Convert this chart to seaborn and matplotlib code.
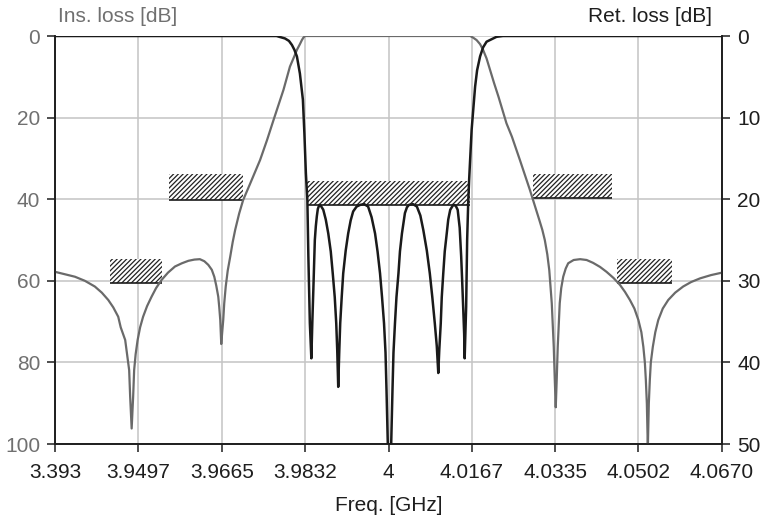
import numpy as np
import pandas as pd
import matplotlib
matplotlib.use("Agg")
import matplotlib.pyplot as plt
import seaborn as sns

# ---------------- data ----------------
ins_freq = [3.9330, 3.9370, 3.9390, 3.9410, 3.9424, 3.9437, 3.9447, 3.9457, 3.9462,
            3.9471, 3.9475, 3.9479, 3.9481, 3.9484, 3.9487, 3.9489, 3.9492, 3.9496,
            3.9501, 3.9507, 3.9515, 3.9524, 3.9533, 3.9544, 3.9557, 3.9571, 3.9585,
            3.9598, 3.9610, 3.9621, 3.9630, 3.9638, 3.9645, 3.9650, 3.9654, 3.9658,
            3.9660, 3.9662, 3.9664, 3.9666, 3.9668, 3.9670, 3.9673, 3.9677, 3.9682,
            3.9687, 3.9692, 3.9700, 3.9708, 3.9722, 3.9742, 3.9756, 3.9769, 3.9789,
            3.9802, 3.9810, 3.9816, 3.9822, 3.9826, 3.9829, 3.9832,
            4.0164, 4.0170, 4.0177, 4.0184, 4.0190, 4.0197, 4.0204, 4.0212, 4.0221,
            4.0237, 4.0248, 4.0264, 4.0284, 4.0303, 4.0309, 4.0314, 4.0319, 4.0323,
            4.0328, 4.0332, 4.0334, 4.0336, 4.0338, 4.0340, 4.0344, 4.0347, 4.0351,
            4.0356, 4.0361, 4.0372, 4.0385, 4.0398, 4.0411, 4.0425, 4.0438, 4.0452,
            4.0465, 4.0475, 4.0485, 4.0494, 4.0502, 4.0508, 4.0512, 4.0515, 4.0517,
            4.0519, 4.0521, 4.0523, 4.0525, 4.0527, 4.0531, 4.0536, 4.0542, 4.0551,
            4.0562, 4.0576, 4.0592, 4.0608, 4.0626, 4.0648, 4.0670]
ins_loss = [57.8, 59.0, 60.0, 61.4, 62.9, 64.7, 66.5, 68.8, 71.4,
            74.5, 78.2, 81.9, 88.4, 96.2, 88.4, 81.9, 78.0, 74.5,
            71.4, 68.8, 66.2, 63.9, 61.8, 59.8, 58.0, 56.5, 55.7,
            55.1, 54.8, 54.7, 55.2, 56.1, 57.3, 59.0, 61.2, 63.9,
            66.5, 69.6, 75.5, 72.5, 69.6, 65.5, 61.4, 57.5, 54.1,
            50.5, 47.5, 43.5, 40.2, 36.2, 30.4, 25.5, 20.6, 13.2,
            7.5, 5.2, 3.4, 2.0, 1.0, 0.4, 0.0,
            0.0, 0.4, 1.0, 2.0, 3.4, 5.5, 8.3, 11.5, 14.9,
            21.4, 24.7, 30.4, 37.7, 45.1, 47.5, 50.0, 53.5, 57.4,
            65.5, 76.2, 84.0, 91.0, 84.0, 76.2, 65.5, 61.8, 59.0,
            57.0, 55.7, 54.9, 54.7, 54.9, 55.6, 56.6, 57.8, 59.3,
            61.0, 62.7, 64.7, 66.8, 69.6, 72.6, 76.2, 80.0, 84.3,
            90.0, 101.0, 90.0, 84.3, 80.0, 76.2, 72.6, 69.6, 66.8,
            64.7, 62.9, 61.4, 60.3, 59.4, 58.6, 58.0]

ret_freq = [3.9330, 3.9775, 3.9792, 3.9800, 3.9806, 3.9811, 3.9816, 3.9822, 3.9828,
            3.9831, 3.9834, 3.9837, 3.9839, 3.9842, 3.9845, 3.9847, 3.9849, 3.9852,
            3.9854, 3.9856, 3.9858, 3.9861, 3.9864, 3.9869, 3.9874, 3.9879, 3.9884,
            3.9888, 3.9892, 3.9895, 3.9897, 3.9899, 3.9901, 3.9903, 3.9906, 3.9909,
            3.9914, 3.9919, 3.9924, 3.9929, 3.9936, 3.9943, 3.9951, 3.9959, 3.9966,
            3.9973, 3.9978, 3.9983, 3.9987, 3.9991, 3.9994, 3.9996, 3.9999, 4.0002,
            4.0005, 4.0008, 4.0010, 4.0013, 4.0016, 4.0020, 4.0023, 4.0027, 4.0033,
            4.0037, 4.0041, 4.0049, 4.0057, 4.0064, 4.0070, 4.0077, 4.0083, 4.0088,
            4.0093, 4.0097, 4.0100, 4.0102, 4.0105, 4.0107, 4.0110, 4.0113, 4.0117,
            4.0120, 4.0124, 4.0130, 4.0135, 4.0139, 4.0143, 4.0146, 4.0148, 4.0150,
            4.0152, 4.0153, 4.0156, 4.0158, 4.0160, 4.0162, 4.0167, 4.0174, 4.0178,
            4.0184, 4.0190, 4.0197, 4.0217, 4.0230, 4.0670]
ret_loss = [0.0, 0.0, 0.3, 0.6, 1.1, 1.7, 2.5, 4.6, 7.8,
            11.9, 16.8, 20.1, 27.0, 35.2, 39.5, 35.0, 31.1, 25.0,
            23.3, 22.1, 21.2, 20.7, 20.8, 21.3, 22.5, 24.2, 26.4,
            29.1, 32.0, 35.2, 38.5, 43.0, 38.8, 35.2, 32.0, 29.1,
            26.3, 24.2, 22.6, 21.5, 20.9, 20.7, 20.6, 20.9, 22.2,
            24.2, 26.4, 29.1, 32.0, 35.2, 38.8, 43.4, 51.0, 60.0,
            51.0, 43.4, 38.8, 35.2, 32.0, 29.1, 26.4, 24.2, 21.7,
            21.0, 20.7, 20.6, 20.9, 22.0, 23.8, 26.3, 29.1, 32.0,
            35.2, 38.0, 41.3, 38.5, 35.2, 32.0, 29.1, 26.4, 24.2,
            22.5, 21.3, 20.7, 20.8, 21.3, 23.5, 27.0, 30.0, 33.2,
            36.5, 39.5, 33.2, 25.0, 20.7, 17.6, 11.5, 6.2, 4.2,
            2.5, 1.4, 0.7, 0.1, 0.0, 0.0]

# attenuation mask (insertion-loss axis units)
mask_f_lo = [3.9440, 3.9560, 3.9836, 4.0290, 4.0460]
mask_f_hi = [3.9545, 3.9707, 4.0163, 4.0450, 4.0569]
mask_top = [54.7, 33.8, 35.5, 33.8, 54.7]
mask_bottom = [60.6, 40.2, 41.4, 39.8, 60.6]

x_ticks = [3.933, 3.9497, 3.9665, 3.9832, 4.0, 4.0167, 4.0335, 4.0502, 4.067]
x_tick_labels = ["3.393", "3.9497", "3.9665", "3.9832", "4", "4.0167",
                 "4.0335", "4.0502", "4.0670"]
ins_ticks = [0, 20, 40, 60, 80, 100]
ret_ticks = [0, 10, 20, 30, 40, 50]

# ---------------- style ----------------
sns.set_theme(style="white")
plt.rcParams["font.family"] = ["Liberation Sans", "DejaVu Sans"]
plt.rcParams["hatch.linewidth"] = 0.9

df_ins = pd.DataFrame({"f": ins_freq, "il": ins_loss})
df_ret = pd.DataFrame({"f": ret_freq, "rl": ret_loss})

fig = plt.figure(figsize=(7.64, 5.21), dpi=100)
ax = fig.add_axes([55 / 764, 1 - 444 / 521, 667 / 764, 408 / 521])
ax2 = ax.twinx()

FS = 15
GRAY_TXT = "#707070"
DARK = "#1e1e1e"
TL = 5.8   # tick length in points (~8 px)

# grid
ax.set_axisbelow(True)
ax.grid(True, color="#c4c4c4", lw=1.1)

# mask boxes
ax.bar(mask_f_lo, np.array(mask_bottom) - np.array(mask_top),
       width=np.array(mask_f_hi) - np.array(mask_f_lo), bottom=mask_top,
       align="edge", color="white", edgecolor="#222222", linewidth=0,
       hatch="///////", zorder=2)
ax.hlines(mask_bottom, mask_f_lo, mask_f_hi, color="#1a1a1a", lw=1.2, zorder=3)

# insertion loss (gray)
sns.lineplot(data=df_ins, x="f", y="il", ax=ax, color="#6a6a6a", lw=1.6,
             sort=False, zorder=4)
# return loss (black)
sns.lineplot(data=df_ret, x="f", y="rl", ax=ax2, color="#1a1a1a", lw=1.8,
             sort=False, zorder=5)

ax.set_xlim(3.933, 4.067)
ax.set_ylim(100, 0)
ax2.set_ylim(50, 0)

ax.set_xticks(x_ticks)
ax.set_xticklabels(x_tick_labels)
ax.set_yticks(ins_ticks)
ax2.set_yticks(ret_ticks)

ax.set_xlabel("Freq. [GHz]", fontsize=FS, color=DARK, labelpad=10)
ax.set_ylabel("")
ax2.set_ylabel("")

ax.tick_params(axis="x", direction="out", length=TL, width=1.1, colors=DARK,
               labelsize=FS, pad=8, bottom=True)
ax.tick_params(axis="y", direction="out", length=TL, width=1.1, color=DARK,
               labelcolor=GRAY_TXT, labelsize=FS, pad=5, left=True)
ax2.tick_params(axis="y", direction="out", length=TL, width=1.1, color=DARK,
                labelcolor=DARK, labelsize=FS, pad=5, right=True)

for a in (ax, ax2):
    a.spines["top"].set_visible(False)
    for s in ("left", "right", "bottom"):
        a.spines[s].set_color(DARK)
        a.spines[s].set_linewidth(1.2)
ax2.grid(False)

fig.text(58 / 764, 1 - 16 / 521, "Ins. loss [dB]", fontsize=FS, color=GRAY_TXT,
         ha="left", va="center")
fig.text(712 / 764, 1 - 16 / 521, "Ret. loss [dB]", fontsize=FS, color=DARK,
         ha="right", va="center")

fig.savefig("out.png", dpi=100)
